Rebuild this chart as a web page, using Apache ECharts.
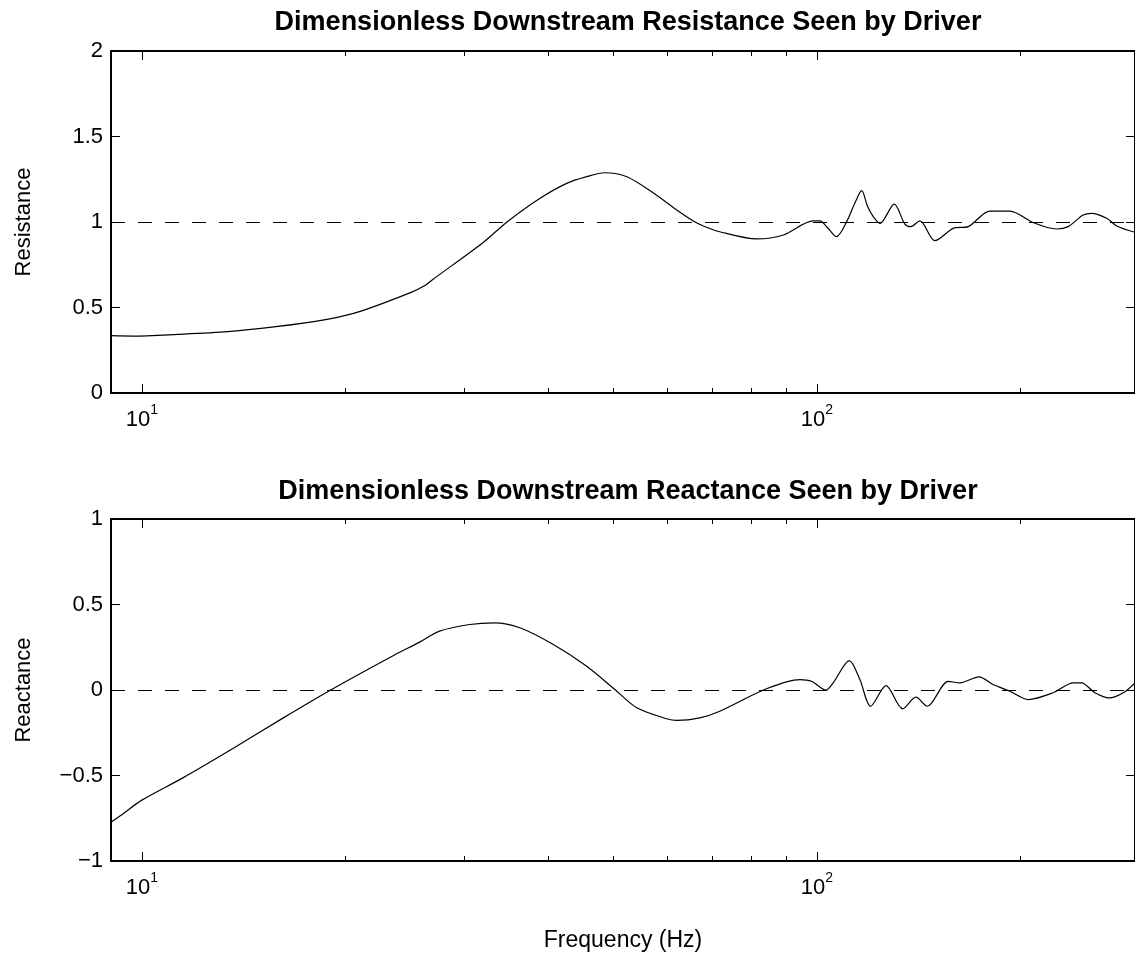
<!DOCTYPE html>
<html>
<head>
<meta charset="utf-8">
<script src="https://cdn.jsdelivr.net/npm/echarts@6/dist/echarts.min.js"></script>
<style>
html, body { margin: 0; padding: 0; background: #fff; }
#chart { width: 1135px; height: 960px; }
</style>
</head>
<body>
<div id="chart"></div>
<script>
// frequencies (Hz) and dimensionless resistance
var freqR = [9.0, 9.7, 11.3, 13.4, 15.8, 18.8, 21.0, 25.0, 26.3, 27.0, 32.0, 34.9, 38.9, 42.6, 45.6, 48.5, 52.3, 57.2, 62.0, 65.6, 67.9, 71.8, 81.4, 89.2, 98.8, 101.0, 103.8, 106.9, 110.7, 113.8, 116.5, 118.9, 121.2, 124.0, 130.2, 135.0, 137.7, 142.1, 149.6, 159.2, 167.6, 180.4, 193.2, 209.2, 226.6, 235.7, 248.0, 255.3, 268.7, 278.0, 296];
var resistance = [0.335, 0.333, 0.343, 0.359, 0.388, 0.431, 0.476, 0.587, 0.630, 0.665, 0.879, 1.006, 1.139, 1.226, 1.265, 1.288, 1.265, 1.171, 1.070, 1.006, 0.977, 0.943, 0.901, 0.924, 1.006, 1.006, 0.965, 0.914, 1.002, 1.109, 1.183, 1.09, 1.031, 0.992, 1.105, 0.988, 0.973, 1.006, 0.891, 0.963, 0.973, 1.064, 1.064, 0.996, 0.959, 0.973, 1.041, 1.051, 1.022, 0.977, 0.940];

// frequencies (Hz) and dimensionless reactance
var freqX = [9.0, 9.3, 10.0, 11.5, 13.7, 16.2, 19.1, 23.6, 25.8, 27.6, 30.6, 33.3, 36.3, 40.7, 45.6, 50.2, 54.1, 59.9, 62.0, 67.1, 71.8, 84.2, 94.4, 98.2, 103.1, 105.7, 111.7, 115.8, 120.1, 126.6, 134.0, 140.2, 145.7, 156.5, 162.9, 173.9, 182.4, 193.2, 205.6, 223.9, 239.8, 246.7, 258.2, 271.0, 284.4, 296];
var reactance = [-0.773, -0.734, -0.644, -0.514, -0.338, -0.163, 0.003, 0.202, 0.280, 0.344, 0.383, 0.393, 0.364, 0.266, 0.139, 0.003, -0.104, -0.168, -0.178, -0.163, -0.124, 0.007, 0.061, 0.051, -0.001, 0.042, 0.172, 0.061, -0.095, 0.026, -0.110, -0.042, -0.095, 0.051, 0.042, 0.077, 0.032, -0.007, -0.056, -0.016, 0.042, 0.042, -0.016, -0.046, -0.016, 0.042];

var majorTicks = [10, 100];
var minorTicks = [20, 30, 40, 50, 60, 70, 80, 90, 200];
var freqRange = [9, 296];
var refR = 1;
var refX = 0;

var FONT = "'Liberation Sans', Arial, sans-serif";

function zip(xs, ys) {
	var out = [];
	for (var i = 0; i < xs.length; i++) {
		out.push([xs[i], ys[i]]);
	}
	return out;
}

function tickFmt(v) {
	var s = String(v);
	return s.replace('-', '\u2212');
}

//log x axes: major with labels, minor ticks, both bottom and top
function makeXAxes(gridIndex, withName) {
	var line = { show: true, onZero: false, lineStyle: { color: '#000', width: 2 } };
	var axes = [];
	axes.push({
		type: 'log', logBase: 10, gridIndex: gridIndex, position: 'bottom',
		min: freqRange[0], max: freqRange[1],
		axisLine: line,
		axisTick: { show: true, inside: true, length: 9, customValues: majorTicks, lineStyle: { color: '#000' } },
		axisLabel: {
			show: true, customValues: majorTicks, margin: 10, color: '#000',
			formatter: function(v) {
				return '{b|10}{s|' + Math.round(Math.log(v) / Math.LN10) + '}';
			},
			rich: {
				b: { fontSize: 22, fontFamily: FONT, color: '#000', padding: [6, 0, 0, 0] },
				s: { fontSize: 14, fontFamily: FONT, color: '#000', verticalAlign: 'top' }
			}
		},
		splitLine: { show: false },
		name: withName ? 'Frequency (Hz)' : '',
		nameLocation: 'middle', nameGap: 68,
		nameTextStyle: { fontSize: 23, fontFamily: FONT, color: '#000' }
	});
	axes.push({
		type: 'log', logBase: 10, gridIndex: gridIndex, position: 'bottom',
		min: freqRange[0], max: freqRange[1],
		axisLine: { show: false, onZero: false },
		axisTick: { show: true, inside: true, length: 5, customValues: minorTicks, lineStyle: { color: '#000' } },
		axisLabel: { show: false },
		splitLine: { show: false }
	});
	axes.push({
		type: 'log', logBase: 10, gridIndex: gridIndex, position: 'top',
		min: freqRange[0], max: freqRange[1],
		axisLine: line,
		axisTick: { show: true, inside: true, length: 9, customValues: majorTicks, lineStyle: { color: '#000' } },
		axisLabel: { show: false },
		splitLine: { show: false }
	});
	axes.push({
		type: 'log', logBase: 10, gridIndex: gridIndex, position: 'top',
		min: freqRange[0], max: freqRange[1],
		axisLine: { show: false, onZero: false },
		axisTick: { show: true, inside: true, length: 5, customValues: minorTicks, lineStyle: { color: '#000' } },
		axisLabel: { show: false },
		splitLine: { show: false }
	});
	return axes;
}

function makeYAxes(gridIndex, min, max, name) {
	var line = { show: true, onZero: false, lineStyle: { color: '#000', width: 2 } };
	return [{
		type: 'value', gridIndex: gridIndex, position: 'left',
		min: min, max: max, interval: 0.5,
		axisLine: line,
		axisTick: { show: true, inside: true, length: 9, lineStyle: { color: '#000' } },
		axisLabel: { show: true, margin: 8, fontSize: 22, fontFamily: FONT, color: '#000', formatter: tickFmt },
		splitLine: { show: false },
		name: name, nameLocation: 'middle', nameGap: 76,
		nameTextStyle: { fontSize: 22, fontFamily: FONT, color: '#000' }
	}, {
		type: 'value', gridIndex: gridIndex, position: 'right',
		min: min, max: max, interval: 0.5,
		axisLine: line,
		axisTick: { show: true, inside: true, length: 9, lineStyle: { color: '#000' } },
		axisLabel: { show: false },
		splitLine: { show: false }
	}];
}

function refLine(y) {
	return {
		silent: true,
		symbol: 'none',
		label: { show: false },
		lineStyle: { color: '#000', width: 1, type: [14, 13] },
		data: [{ yAxis: y }]
	};
}

var chart = echarts.init(document.getElementById('chart'), null, { renderer: 'canvas' });

var titleStyle = { fontSize: 27, fontWeight: 'bold', fontFamily: FONT, color: '#000' };

var option = {
	backgroundColor: '#fff',
	animation: false,
	title: [
		{ text: 'Dimensionless Downstream Resistance Seen by Driver', left: 623, top: 4, textAlign: 'center', textStyle: titleStyle },
		{ text: 'Dimensionless Downstream Reactance Seen by Driver', left: 623, top: 473, textAlign: 'center', textStyle: titleStyle }
	],
	grid: [
		{ left: 111, top: 51, width: 1025, height: 342 },
		{ left: 111, top: 519, width: 1025, height: 342 }
	],
	xAxis: makeXAxes(0, false).concat(makeXAxes(1, true)),
	yAxis: makeYAxes(0, 0, 2, 'Resistance').concat(makeYAxes(1, -1, 1, 'Reactance')),
	series: [{
		type: 'line',
		xAxisIndex: 0, yAxisIndex: 0,
		data: zip(freqR, resistance),
		showSymbol: false, smooth: 0.3,
		lineStyle: { color: '#000', width: 1.2 },
		markLine: refLine(refR)
	}, {
		type: 'line',
		xAxisIndex: 4, yAxisIndex: 2,
		data: zip(freqX, reactance),
		showSymbol: false, smooth: 0.3,
		lineStyle: { color: '#000', width: 1.2 },
		markLine: refLine(refX)
	}]
};

chart.setOption(option);
</script>
</body>
</html>
